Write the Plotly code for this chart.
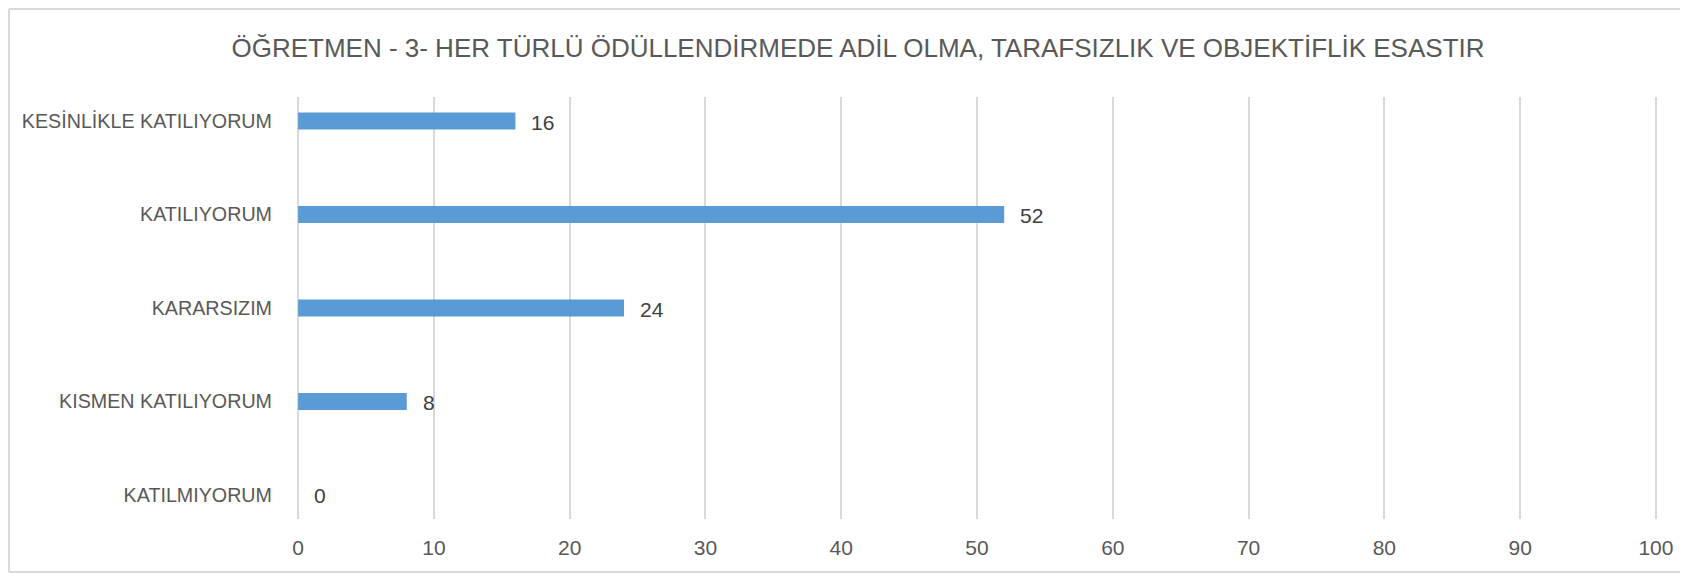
import plotly.graph_objects as go

categories = ["KATILMIYORUM", "KISMEN KATILIYORUM", "KARARSIZIM", "KATILIYORUM", "KESİNLİKLE KATILIYORUM"]
values = [0, 8, 24, 52, 16]
x_ticks = [0, 10, 20, 30, 40, 50, 60, 70, 80, 90, 100]
title_text = "ÖĞRETMEN - 3- HER TÜRLÜ ÖDÜLLENDİRMEDE ADİL OLMA, TARAFSIZLIK VE OBJEKTİFLİK ESASTIR"

FONT = "Liberation Sans"
W, H = 1676, 565
L, R, T, B = 290, 27, 89, 54
PW, PH = W - L - R, H - T - B

fig = go.Figure()
fig.add_trace(go.Bar(
    y=categories, x=values, orientation="h",
    marker=dict(color="#5B9BD5", line=dict(width=0)),
    width=0.18,
    hoverinfo="skip",
))

for c, v in zip(categories, values):
    fig.add_annotation(x=v, y=c, text=str(v), showarrow=False,
                       xanchor="left", yanchor="middle", xshift=14, yshift=-1,
                       font=dict(family=FONT, size=21, color="#404040"))

bx0 = (1 - L) / PW
bx1 = 1 + (R - 4) / PW
by0 = -(B - 1) / PH
by1 = 1 + (T - 1) / PH
border = dict(color="#d9d9d9", width=2)

fig.update_layout(
    width=W, height=H,
    margin=dict(l=L, r=R, t=T, b=B),
    paper_bgcolor="white", plot_bgcolor="white",
    showlegend=False,
    title=dict(text=title_text, x=(858 - 8) / W, xanchor="center", xref="container",
               y=1 - 40 / H, yanchor="middle",
               font=dict(family=FONT, size=26, color="#595959")),
    xaxis=dict(range=[-0.01, 100.08], tickvals=x_ticks, showgrid=True, gridcolor="#d9d9d9", gridwidth=1.5,
               zeroline=True, zerolinecolor="#d9d9d9", zerolinewidth=1.5,
               showline=False, ticks="", ticklabelstandoff=14,
               tickfont=dict(family=FONT, size=21, color="#595959"), fixedrange=True),
    yaxis=dict(categoryorder="array", categoryarray=categories, range=[-0.257, 4.257],
               showgrid=False, zeroline=False, showline=False, ticks="", ticklabelstandoff=25,
               tickfont=dict(family=FONT, size=19.7, color="#595959"), fixedrange=True),
    shapes=[
        dict(type="line", xref="paper", yref="paper", x0=bx0, x1=bx0, y0=by0, y1=by1, line=border, layer="below"),
        dict(type="line", xref="paper", yref="paper", x0=bx0, x1=bx1, y0=by1, y1=by1, line=border, layer="below"),
        dict(type="line", xref="paper", yref="paper", x0=bx0, x1=bx1, y0=by0, y1=by0, line=border, layer="below"),
    ],
)

fig.write_html("out.html")
